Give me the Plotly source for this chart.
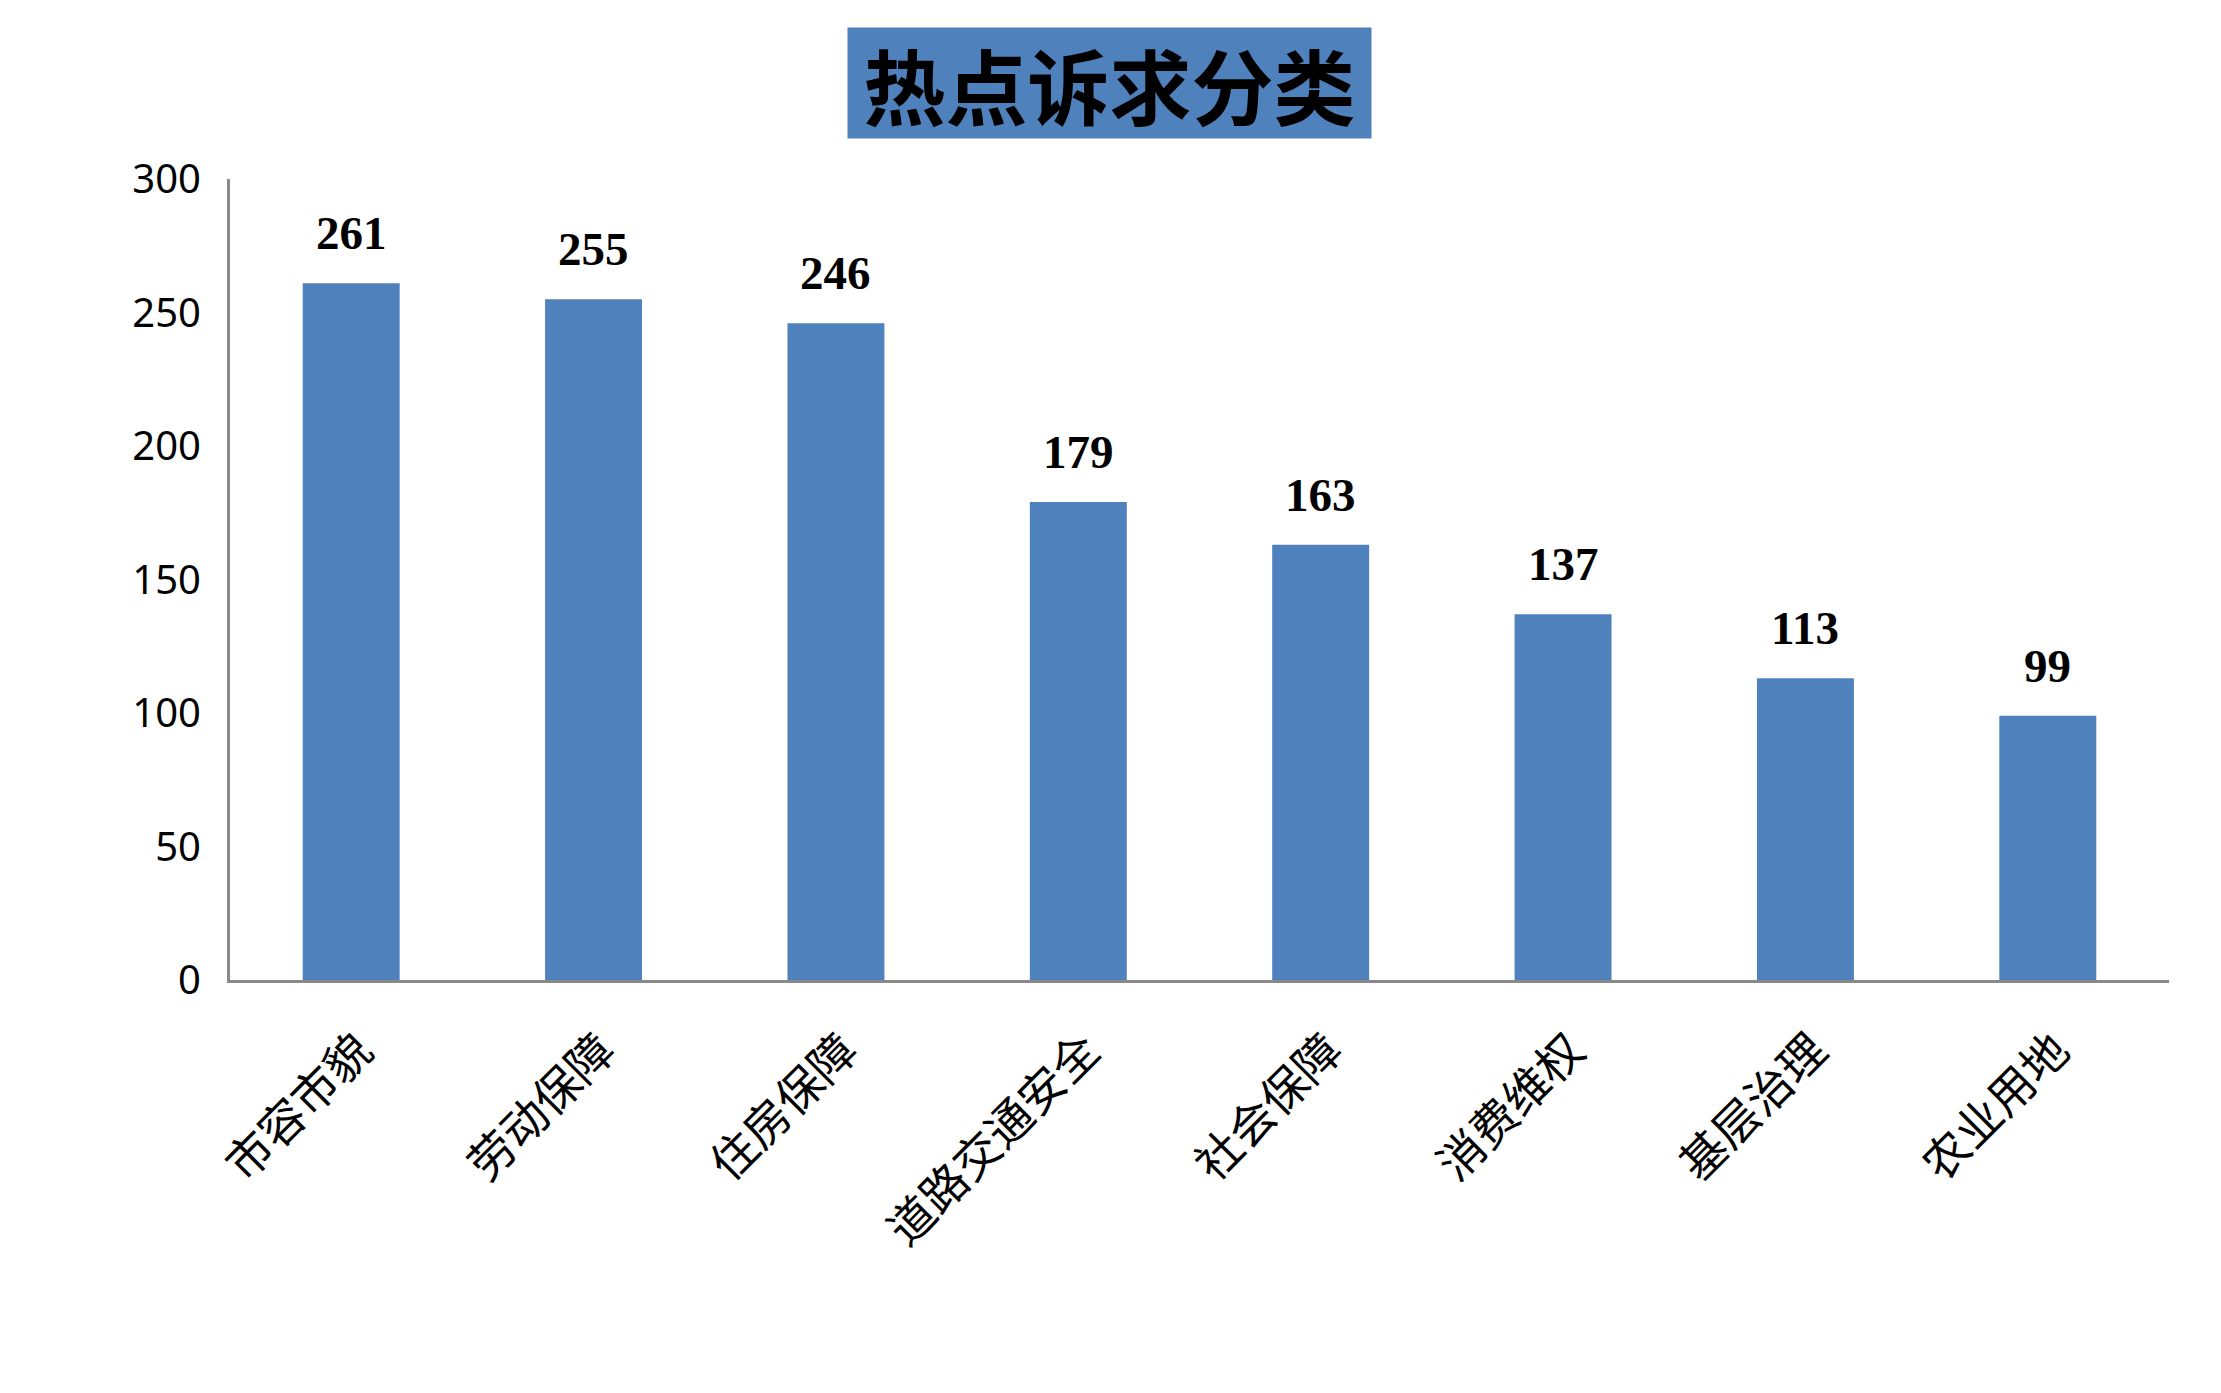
import plotly.graph_objects as go

categories = ["市容市貌", "劳动保障", "住房保障", "道路交通安全", "社会保障", "消费维权", "基层治理", "农业用地"]
values = [261, 255, 246, 179, 163, 137, 113, 99]
y_ticks = [0, 50, 100, 150, 200, 250, 300]
title_text = "热点诉求分类"

# page body has an 8px margin; figure coordinates are page coordinates minus 8
OFF = 8
W, H = 2221 - 2 * OFF, 1393 - 2 * OFF
L = 229.5 - OFF
T = 178.5 - OFF
R = W - (2168.6 - OFF)
B = H - (980 - OFF)

BAR = "#4F81BD"
AXIS = "#898989"

fig = go.Figure()
fig.add_trace(go.Bar(
    x=categories, y=values, marker=dict(color=BAR, line=dict(width=0)),
    hoverinfo="x+y",
))

for c, v in zip(categories, values):
    fig.add_annotation(
        x=c, y=v, xref="x", yref="y", text=str(v), showarrow=False,
        yanchor="middle", yshift=50,
        font=dict(family="Liberation Serif", size=47, color="#000000", weight="bold"),
    )

pw = W - L - R
ph = H - T - B
cx = (848 + 1371) / 2 - OFF
cy = (27 + 137) / 2 - OFF
fig.add_annotation(
    x=(cx - L) / pw, y=(H - B - cy) / ph, xref="paper", yref="paper",
    xanchor="center", yanchor="middle",
    text=title_text, showarrow=False,
    width=523, height=110, bgcolor=BAR, borderpad=0, align="center", valign="middle",
    font=dict(family="Noto Sans CJK SC", size=82, color="#000000", weight="bold"),
)

fig.update_layout(
    width=W, height=H, autosize=False,
    margin=dict(l=L, r=R, t=T, b=B, pad=0),
    paper_bgcolor="white", plot_bgcolor="white",
    bargap=0.6, showlegend=False,
    xaxis=dict(
        showline=True, linecolor=AXIS, linewidth=3, showgrid=False, zeroline=False,
        ticks="", tickangle=-45, ticklabelstandoff=22, ticklabelshift=8,
        tickfont=dict(family="Noto Sans CJK SC", size=46, color="#000000"),
    ),
    yaxis=dict(
        range=[0, 300], tickvals=y_ticks, ticktext=[str(t) for t in y_ticks],
        showline=True, linecolor=AXIS, linewidth=3, showgrid=False, zeroline=False,
        ticks="", ticklabelstandoff=18,
        tickfont=dict(family="Noto Sans", size=40, color="#000000"),
    ),
)

fig.write_html("out.html")
